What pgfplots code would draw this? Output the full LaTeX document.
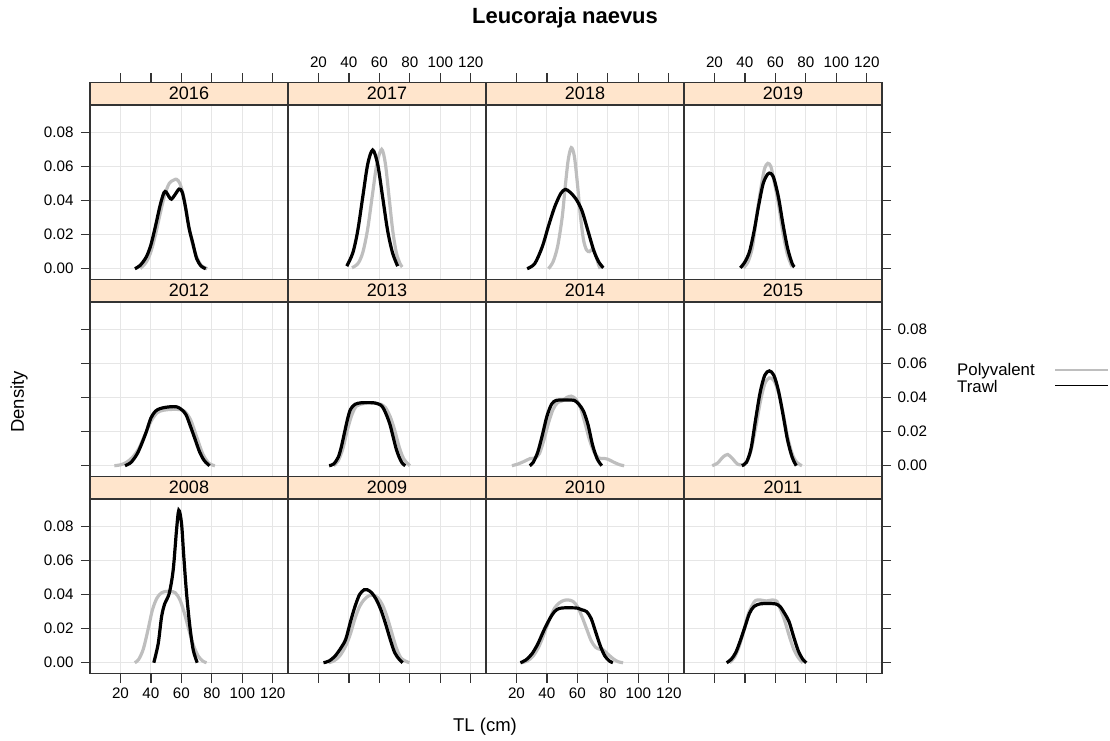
\documentclass[border=0pt]{standalone}
\usepackage{fontspec}
\setmainfont{Liberation Sans}
\usepackage{pgfplots}
\pgfplotsset{compat=1.18}

\definecolor{stripcol}{HTML}{FFE5CC}
\definecolor{polygray}{HTML}{BEBEBE}
\definecolor{gridgray}{HTML}{E6E6E6}
\definecolor{axiscol}{HTML}{333333}

\pgfplotsset{
  panel/.style={
    scale only axis, width=198pt, height=197pt,
    xmin=0, xmax=130, ymin=-0.00633, ymax=0.1092,
    xtick={20,40,60,80,100,120}, xticklabels={20,40,60,80,100,120},
    ytick={0,0.02,0.04,0.06,0.08}, yticklabels={0.00,0.02,0.04,0.06,0.08},
    grid=major, major grid style={draw=gridgray, line width=1pt},
    axis line style={draw=axiscol, line width=1.2pt},
    tick align=outside, major tick length=9pt,
    tick style={draw=axiscol, line width=1.2pt},
    tick label style={font=\fontsize{15.2}{18}\selectfont},
    clip=false, anchor=south west,
  },
  xtop/.style={xtick pos=right, xticklabel pos=right, xticklabel style={yshift=2.5pt}},
  xbot/.style={xtick pos=left, xticklabel pos=left, xticklabel style={yshift=-2pt}},
  xnone/.style={xtick style={draw=none}, xticklabels={}},
  yleft/.style={ytick pos=left, yticklabel pos=left, yticklabel style={xshift=-4pt}},
  yright/.style={ytick pos=right, yticklabel pos=right, yticklabel style={xshift=3pt}},
  ynone/.style={ytick style={draw=none}, yticklabels={}},
  poly/.style={draw=polygray, line width=3.2pt, smooth, tension=0.5, no markers},
  trawl/.style={draw=black, line width=3.2pt, smooth, tension=0.5, no markers},
}

% lattice strip on top of a panel
\newcommand{\strip}[1]{%
  \fill[stripcol] (rel axis cs:0,0.8858) rectangle (rel axis cs:1,1);
  \draw[axiscol, line width=1.2pt] (rel axis cs:0,0.8858) rectangle (rel axis cs:1,1);
  \node[font=\fontsize{18}{20}\selectfont] at (rel axis cs:0.5,0.9429) {#1};}

\begin{document}
\begin{tikzpicture}
\useasboundingbox (0,0) rectangle (1110pt,740pt);

% ---------- row 1 ----------
\begin{axis}[panel, at={(90pt,460.5pt)}, xtop, xticklabels={}, yleft]
\addplot[poly] coordinates {(33,0) (37,0.004) (40,0.010) (43,0.020) (46,0.032) (49,0.043) (52,0.050) (55,0.052) (57,0.0524) (59,0.050) (61,0.044) (63,0.035) (65,0.024) (67.5,0.014) (70,0.007) (73,0.002) (77,0)};
\addplot[trawl] coordinates {(29.5,0) (33,0.002) (37,0.007) (40,0.014) (43,0.025) (46,0.037) (48.5,0.0445) (50,0.045) (52,0.042) (53.5,0.0408) (55.5,0.043) (58.5,0.0467) (60.5,0.045) (62.5,0.037) (65,0.024) (67.5,0.015) (70,0.006) (73,0.0015) (76,0)};
\strip{2016}
\end{axis}

\begin{axis}[panel, at={(288pt,460.5pt)}, xtop, ynone]
\addplot[poly] coordinates {(42,0.0005) (46,0.0031) (49.1,0.0095) (52.2,0.0227) (55.3,0.0425) (58.4,0.0618) (61.5,0.070) (63.9,0.0618) (66.3,0.0425) (68.7,0.0227) (71.1,0.0095) (73.5,0.0031) (75,0.001)};
\addplot[trawl] coordinates {(38.6,0.0015) (42.6,0.0094) (45.85,0.0226) (49.1,0.0422) (52.35,0.0614) (55.6,0.0696) (58.85,0.0614) (62.1,0.0422) (65.35,0.0226) (68.6,0.0094) (72,0.0015)};
\strip{2017}
\end{axis}

\begin{axis}[panel, at={(486pt,460.5pt)}, xtop, xticklabels={}, ynone]
\addplot[poly] coordinates {(41,0) (44,0.004) (47,0.013) (50,0.030) (52,0.048) (54,0.064) (56,0.071) (58,0.066) (60,0.050) (62,0.031) (64,0.017) (66,0.011) (68,0.010) (70,0.0115) (72,0.008) (74,0.002) (75,0)};
\addplot[trawl] coordinates {(27,0) (32,0.003) (37,0.013) (41,0.025) (45,0.036) (49,0.044) (52,0.0465) (55,0.045) (59,0.041) (63,0.034) (67,0.022) (71,0.010) (74,0.004) (77,0.0005)};
\strip{2018}
\end{axis}

\begin{axis}[panel, at={(684pt,460.5pt)}, xtop, yright, yticklabels={}]
\addplot[poly] coordinates {(39,0.0005) (42,0.004) (45,0.013) (48,0.033) (51,0.050) (53,0.059) (55,0.0618) (57,0.060) (59,0.052) (62,0.038) (65,0.021) (68,0.008) (71,0.001)};
\addplot[trawl] coordinates {(37,0.0005) (40,0.004) (43,0.010) (46,0.022) (49,0.037) (52,0.050) (55,0.0555) (57,0.0558) (59,0.053) (62,0.042) (65,0.026) (68,0.012) (71,0.003) (72.5,0.001)};
\strip{2019}
\end{axis}

% ---------- row 2 ----------
\begin{axis}[panel, at={(90pt,263.5pt)}, xnone, yleft, yticklabels={}]
\addplot[poly] coordinates {(16,0) (20,0.0005) (24,0.002) (28,0.005) (32,0.010) (36,0.018) (40,0.026) (44,0.031) (48,0.0325) (53,0.033) (58,0.033) (62,0.032) (66,0.027) (70,0.017) (74,0.007) (78,0.0015) (82,0)};
\addplot[trawl] coordinates {(23,0) (27,0.002) (31,0.007) (34,0.013) (37,0.020) (40,0.028) (43,0.032) (46,0.0335) (50,0.0343) (53,0.0346) (57,0.0345) (60,0.033) (63,0.030) (66,0.023) (69,0.0155) (72,0.008) (75,0.003) (78.5,0)};
\strip{2012}
\end{axis}

\begin{axis}[panel, at={(288pt,263.5pt)}, xnone, ynone]
\addplot[poly] coordinates {(30,0) (33,0.003) (36,0.010) (39,0.021) (42,0.030) (45,0.035) (50,0.0365) (56,0.0368) (61,0.036) (64,0.034) (67,0.029) (70,0.021) (73,0.011) (76,0.004) (80,0)};
\addplot[trawl] coordinates {(27,0) (30,0.001) (33,0.005) (35,0.011) (37,0.019) (39,0.027) (41,0.033) (44,0.036) (48,0.0369) (53,0.037) (57,0.0368) (61,0.0355) (63,0.033) (65,0.029) (67,0.024) (69,0.017) (71,0.010) (73,0.005) (75,0.0015) (77,0)};
\strip{2013}
\end{axis}

\begin{axis}[panel, at={(486pt,263.5pt)}, xnone, ynone]
\addplot[poly] coordinates {(17,0) (21,0.001) (25,0.0025) (29,0.0042) (32,0.0045) (35,0.007) (38,0.015) (41,0.025) (44,0.033) (47,0.037) (50,0.038) (53,0.040) (56,0.0408) (59,0.039) (62,0.034) (65,0.025) (68,0.015) (71,0.008) (74,0.0045) (77,0.0043) (80,0.0038) (84,0.002) (88,0.0005) (90.7,0)};
\addplot[trawl] coordinates {(28.7,0) (31,0.002) (34,0.008) (37,0.018) (40,0.029) (43,0.036) (46,0.0383) (50,0.0385) (54,0.0385) (58,0.0383) (61,0.036) (64,0.032) (67,0.024) (70,0.012) (73,0.004) (76,0)};
\strip{2014}
\end{axis}

\begin{axis}[panel, at={(684pt,263.5pt)}, xnone, yright]
\addplot[poly] coordinates {(18.5,0) (22,0.0015) (25.5,0.005) (28.7,0.0066) (32,0.004) (35,0.001) (38,0.0005) (41,0.002) (44,0.009) (47,0.022) (50,0.037) (53,0.048) (56,0.0515) (59,0.050) (62,0.043) (65,0.031) (68,0.017) (71,0.007) (74,0.002) (77.4,0)};
\addplot[trawl] coordinates {(38,0) (41,0.002) (44,0.010) (47,0.027) (50,0.043) (53,0.053) (56,0.0556) (59,0.053) (62,0.044) (65,0.030) (68,0.015) (71,0.005) (73.7,0)};
\strip{2015}
\end{axis}

% ---------- row 3 ----------
\begin{axis}[panel, at={(90pt,66.5pt)}, xbot, yleft]
\addplot[poly] coordinates {(29.4,0) (32,0.002) (35,0.008) (38,0.019) (41,0.031) (44,0.038) (47,0.041) (50,0.0418) (53,0.0418) (56,0.041) (59,0.037) (62,0.029) (65,0.019) (68,0.010) (71,0.004) (74,0.001) (76.5,0)};
\addplot[trawl] coordinates {(41.9,0) (44.8,0.0113) (47,0.027) (49.1,0.0347) (52,0.0406) (54.6,0.0542) (56.8,0.0777) (58.3,0.0894) (60.1,0.0816) (61.6,0.062) (63.4,0.0406) (65.6,0.021) (67.8,0.0074) (70.4,0)};
\strip{2008}
\end{axis}

\begin{axis}[panel, at={(288pt,66.5pt)}, xbot, xticklabels={}, ynone]
\addplot[poly] coordinates {(26.6,0) (30,0.001) (34,0.004) (38,0.010) (41,0.017) (44,0.026) (47,0.033) (50,0.037) (53,0.0392) (56,0.0396) (59,0.038) (62,0.034) (65,0.027) (68,0.018) (71,0.009) (74,0.003) (77,0.001) (79.7,0)};
\addplot[trawl] coordinates {(23.3,0) (27,0.001) (31,0.004) (35,0.009) (38,0.014) (41,0.024) (44,0.033) (47,0.040) (50,0.0428) (52,0.0428) (55,0.041) (58,0.037) (61,0.031) (64,0.023) (67,0.014) (70,0.006) (73,0.002) (75.3,0)};
\strip{2009}
\end{axis}

\begin{axis}[panel, at={(486pt,66.5pt)}, xbot, ynone]
\addplot[poly] coordinates {(23,0) (27,0.001) (31,0.004) (35,0.010) (39,0.019) (42,0.026) (45,0.032) (48,0.035) (51,0.0365) (54,0.0368) (57,0.036) (60,0.033) (63,0.027) (66,0.020) (69,0.013) (72,0.009) (75,0.0078) (77,0.0075) (80,0.005) (84,0.002) (87,0.0005) (90,0)};
\addplot[trawl] coordinates {(22.6,0) (26,0.0015) (30,0.005) (34,0.011) (38,0.019) (42,0.026) (45,0.030) (48,0.0318) (52,0.0322) (56,0.0322) (60,0.032) (63,0.031) (66,0.030) (69,0.026) (72,0.018) (75,0.010) (78,0.004) (81,0.001) (83.3,0)};
\strip{2010}
\end{axis}

\begin{axis}[panel, at={(684pt,66.5pt)}, xbot, xticklabels={}, yright, yticklabels={}]
\addplot[poly] coordinates {(30,0) (33,0.003) (36,0.009) (39,0.018) (42,0.028) (45,0.034) (47,0.0365) (50,0.0368) (54,0.0362) (58,0.0368) (61,0.036) (63,0.032) (66,0.025) (69,0.016) (72,0.008) (75,0.003) (78,0)};
\addplot[trawl] coordinates {(28,0) (31,0.002) (34,0.006) (37,0.013) (40,0.021) (43,0.029) (46,0.033) (50,0.0345) (55,0.0347) (60,0.0345) (63,0.033) (66,0.029) (69,0.024) (72,0.0152) (75,0.007) (78,0.002) (80.3,0)};
\strip{2011}
\end{axis}

% ---------- titles and legend ----------
\node[font=\bfseries\fontsize{22}{26}\selectfont] at (565pt,722pt) {Leucoraja naevus};
\node[font=\fontsize{18.5}{22}\selectfont] at (485pt,13pt) {TL (cm)};
\node[rotate=90, font=\fontsize{18.5}{22}\selectfont] at (19pt,338pt) {Density};

\node[anchor=west, inner sep=0pt, font=\fontsize{16.8}{18}\selectfont] at (957pt,369.3pt) {Polyvalent};
\node[anchor=west, inner sep=0pt, font=\fontsize{16.8}{18}\selectfont] at (957pt,353.3pt) {Trawl};
\draw[polygray, line width=1.2pt] (1055pt,370pt) -- (1108pt,370pt);
\draw[black, line width=1.2pt] (1055pt,354.3pt) -- (1108pt,354.3pt);
\end{tikzpicture}
\end{document}
